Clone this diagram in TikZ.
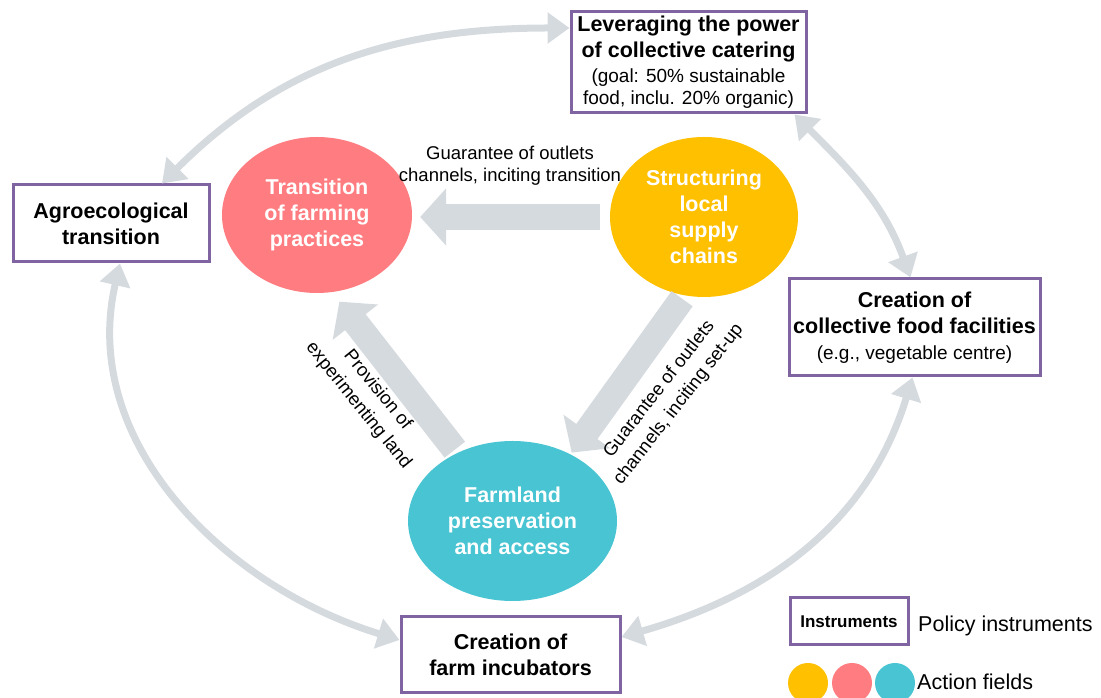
\documentclass[tikz,border=0pt]{standalone}
\usepackage{fontspec}
\setmainfont{Liberation Sans}
\usetikzlibrary{arrows.meta,shapes.geometric}
\definecolor{boxpurple}{HTML}{8064A2}
\definecolor{ringgrey}{HTML}{D5DADF}
\definecolor{transred}{HTML}{FF7C80}
\definecolor{structyellow}{HTML}{FFC000}
\definecolor{farmcyan}{HTML}{48C4D2}
\newcommand\titlefnt{\fontsize{21.5}{26}\selectfont\bfseries}
\newcommand\subfnt{\fontsize{19}{22}\selectfont\mdseries}
\newcommand\labfnt{\fontsize{18.5}{22}\selectfont}
\newcommand\rotlabfnt{\fontsize{18.5}{24.5}\selectfont}
\begin{document}
\begin{tikzpicture}[x=1pt,y=1pt,
  instr/.style={draw=boxpurple, line width=3pt, fill=white, inner sep=0pt, align=center, font=\titlefnt},
  field/.style={ellipse, inner sep=0pt, text=white, align=center, font=\titlefnt},
  ring/.style={draw=ringgrey, line width=7pt, {Triangle[length=22pt,width=30pt]}-{Triangle[length=22pt,width=30pt]}},
  bigarrow/.style={draw=ringgrey, line width=26pt, -{Triangle[length=26pt,width=56pt]}},
  lab/.style={font=\labfnt, align=center, inner sep=0pt},
  rotlab/.style={font=\rotlabfnt, align=center, inner sep=0pt},
  legdot/.style={circle, inner sep=0pt, minimum size=40pt}]
\useasboundingbox (0,0) rectangle (1101,698);

% policy instruments
\node[instr, minimum width=235pt, minimum height=101pt] (lev) at (688.5,635.5)
  {Leveraging the power\\of collective catering\\[-1pt]{\subfnt (goal: 50\% sustainable}\\[-4pt]{\subfnt food, inclu. 20\% organic)}};
\node[instr, minimum width=196pt, minimum height=77pt] (agro) at (111,474.5)
  {Agroecological\\transition};
\node[instr, minimum width=251pt, minimum height=97pt] (coll) at (914.5,370.5)
  {Creation of\\collective food facilities\\{\subfnt (e.g., vegetable centre)}};
\node[instr, minimum width=219pt, minimum height=76pt] (incub) at (510.5,43)
  {Creation of\\farm incubators};

% ring of double arrows
\draw[ring] ([xshift=51pt]agro.north) to[out=45,in=180] ([yshift=34.5pt]lev.west);
\draw[ring] ([xshift=-13pt]lev.south east) to[out=-45,in=110] ([xshift=-4pt]coll.north);
\draw[ring] ([xshift=-2pt]coll.south) to[out=-107,in=16] ([yshift=18pt]incub.east);
\draw[ring] ([yshift=15pt]incub.west) to[out=163,in=-103] ([xshift=9pt]agro.south);

% action fields
\node[field, fill=transred, minimum width=190pt, minimum height=156pt] (trans) at (317,483)
  {Transition\\of farming\\practices};
\node[field, fill=structyellow, minimum width=188pt, minimum height=160pt] (struct) at (704,481)
  {Structuring\\local\\supply\\chains};
\node[field, fill=farmcyan, minimum width=209pt, minimum height=160pt] (farm) at (512.5,177)
  {Farmland\\preservation\\and access};

% thick arrows
\draw[bigarrow, shorten <=10pt, shorten >=8pt] (struct.west) -- (trans.east |- struct.west);
\draw[bigarrow, shorten <=4pt, shorten >=12pt] (farm.129) -- (trans.-79);
\draw[bigarrow, shorten <=4pt, shorten >=2pt] (struct.-104) -- (farm.49);

% labels
\node[lab] (l1) at (510,532) {Guarantee of outlets\\channels, inciting transition};
\node[rotlab, rotate=-51] (l2) at (368,300) {Provision of\\experimenting land};
\node[rotlab, rotate=52] (l3) at (669,301) {Guarantee of outlets\\channels, inciting set-up};

% legend
\node[instr, font=\fontsize{17}{20}\selectfont\bfseries, minimum width=118pt, minimum height=47pt] (leg) at (849,76.5) {Instruments};
\node[anchor=west, inner sep=0pt, font=\fontsize{21.5}{26}\selectfont] (pi) at (918,72) {Policy instruments};
\node[legdot, fill=structyellow] (d1) at (808,15) {};
\node[legdot, fill=transred] (d2) at (852,15) {};
\node[legdot, fill=farmcyan] (d3) at (895,15) {};
\node[anchor=west, inner sep=0pt, font=\fontsize{21.5}{26}\selectfont] (af) at (917,16) {Action fields};
\end{tikzpicture}
\end{document}
